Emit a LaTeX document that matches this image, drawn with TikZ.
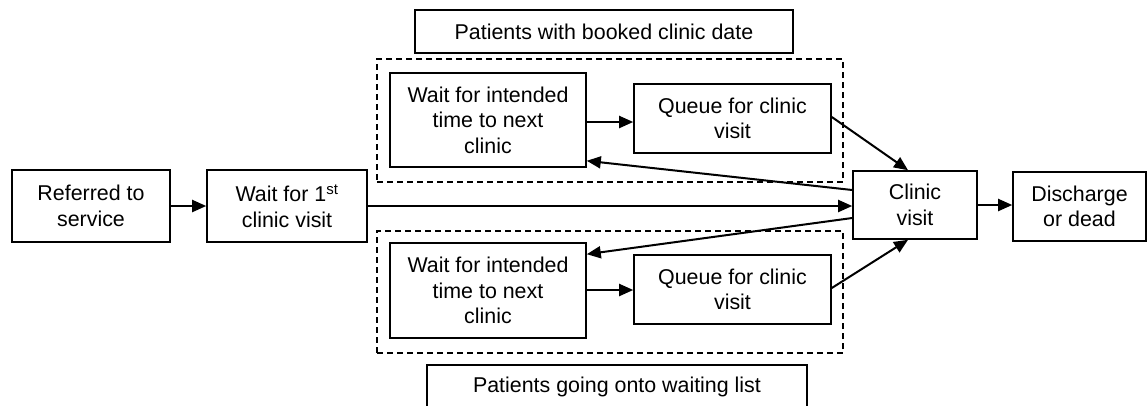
\documentclass[tikz,border=0pt]{standalone}
\usepackage{fontspec}
\setmainfont{Liberation Sans}
\usetikzlibrary{arrows.meta}
\begin{document}
\begin{tikzpicture}[x=1pt,y=-1pt,
  box/.style={draw=black,line width=1.6pt,rectangle,align=center,inner sep=0pt,
    font=\fontsize{21.4}{25.5}\selectfont},
  grp/.style={draw=black,line width=1.4pt,dash pattern=on 6pt off 4pt,rectangle,inner sep=0pt},
  arr/.style={line width=2pt,-{Triangle[length=14pt,width=12pt]}}]
\useasboundingbox (0,0) rectangle (1147,405);
\node[box,minimum width=158pt,minimum height=72pt] (ref) at (91,206) {Referred to\\service};
\node[box,minimum width=160pt,minimum height=72pt] (wait1) at (287,206) {Wait for 1\textsuperscript{st}\\clinic visit};
\node[grp,minimum width=466pt,minimum height=123pt] (gtop) at (610,120.5) {};
\node[grp,minimum width=466pt,minimum height=122pt] (gbot) at (610,292) {};
\node[box,minimum width=378pt,minimum height=43pt] (ttop) at (604,31.5) {Patients with booked clinic date};
\node[box,minimum width=380pt,minimum height=44pt] (tbot) at (617,387) {Patients going onto waiting list};
\node[box,minimum width=196pt,minimum height=94pt] (waitU) at (488,120) {Wait for intended\\time to next\\clinic};
\node[box,minimum width=197pt,minimum height=69pt] (queueU) at (732.5,118.5) {Queue for clinic\\visit};
\node[box,minimum width=196pt,minimum height=95pt] (waitL) at (488,290.5) {Wait for intended\\time to next\\clinic};
\node[box,minimum width=197pt,minimum height=69pt] (queueL) at (732.5,289.5) {Queue for clinic\\visit};
\node[box,minimum width=124pt,minimum height=68pt] (clinic) at (915,205) {Clinic\\visit};
\node[box,minimum width=133pt,minimum height=69pt] (dis) at (1079.5,206.5) {Discharge\\or dead};
\draw[arr] (ref.east) -- (ref.east -| wait1.west);
\draw[arr] (wait1.east) -- (wait1.east -| clinic.west);
\draw[arr] ([yshift=-2pt]waitU.east) -- ([yshift=-2pt]waitU.east -| queueU.west);
\draw[arr] ([yshift=0.5pt]waitL.east) -- ([yshift=0.5pt]waitL.east -| queueL.west);
\draw[arr] ([yshift=1.5pt]queueU.east) -- ([xshift=-7pt]clinic.north);
\draw[arr] ([yshift=1.5pt]queueL.east) -- ([xshift=-7pt]clinic.south);
\draw[arr] ([yshift=15pt]clinic.west) -- ([yshift=7pt]waitU.south east);
\draw[arr] ([yshift=-13pt]clinic.west) -- ([yshift=-12pt]waitL.north east);
\draw[arr] (clinic.east) -- (clinic.east -| dis.west);
\end{tikzpicture}
\end{document}
